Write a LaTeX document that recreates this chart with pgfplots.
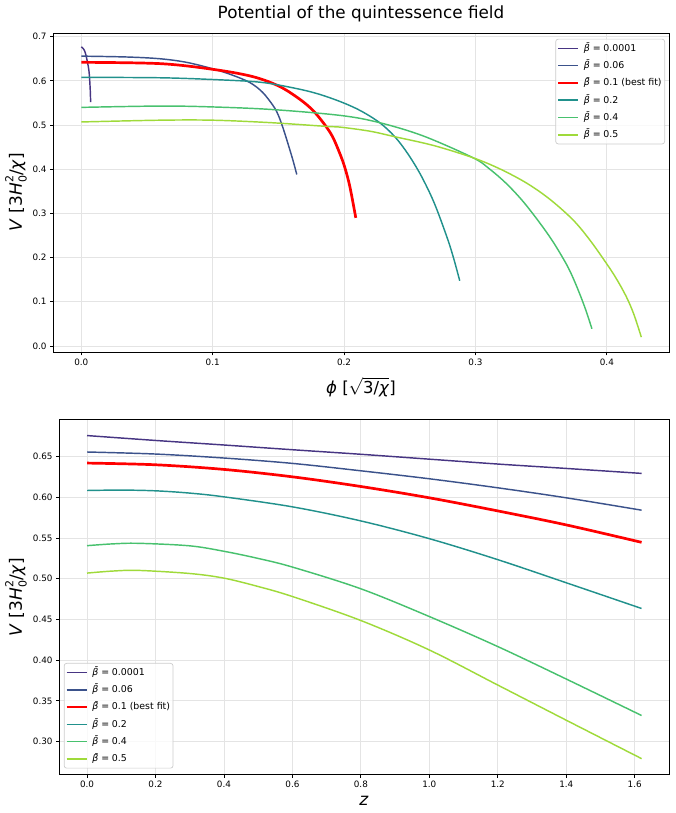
\documentclass[border=0pt]{standalone}
\usepackage{pgfplots}
\pgfplotsset{compat=1.18}
\usepackage{fontspec}
\setmainfont{DejaVu Sans}
\definecolor{cA}{HTML}{473583}
\definecolor{cB}{HTML}{3B528B}
\definecolor{cC}{HTML}{21918C}
\definecolor{cD}{HTML}{48C16E}
\definecolor{cE}{HTML}{9FDA3A}
\definecolor{gridc}{HTML}{E4E4E4}
\definecolor{legc}{HTML}{CCCCCC}
\newcommand{\bb}{\textit{β̄}\hspace{0.28em}=\hspace{0.28em}}
\begin{document}
\begin{tikzpicture}
\path[use as bounding box] (0pt,0pt) rectangle (676pt,813pt);
\pgfplotsset{myax/.style={
  scale only axis,
  axis line style={line width=0.9pt},
  tick align=outside, xtick pos=lower, ytick pos=left,
  major tick length=3.2pt,
  every tick/.style={black,line width=0.8pt},
  grid=major, major grid style={line width=0.8pt, color=gridc},
  ticklabel style={font=\fontsize{8.8}{10}\selectfont},
  /pgf/number format/assume math mode=true,
  legend cell align=left,
  legend image code/.code={\draw[##1] (0pt,0pt) -- (20pt,0pt); \path (22.5pt,0pt);},
  legend style={font=\fontsize{9.4}{11}\selectfont, draw=legc, line width=0.7pt,
    rounded corners=2.5pt, fill=white, fill opacity=0.8, text opacity=1,
    inner xsep=1pt, inner ysep=0.5pt, row sep=0pt,
    nodes={inner ysep=2.2pt, inner xsep=2pt, text height=9.3pt, text depth=3.6pt}},
  every axis plot/.append style={line join=round, smooth, tension=0.55},
}}
% ---------- top panel ----------
\begin{axis}[myax,
  at={(53.3pt,460.7pt)}, anchor=south west,
  width=616pt, height=319pt,
  xmin=-0.0213, xmax=0.4475, ymin=-0.0143, ymax=0.7077,
  xtick={0,0.1,0.2,0.3,0.4}, ytick={0,0.1,0.2,0.3,0.4,0.5,0.6,0.7},
  xticklabel style={/pgf/number format/.cd,fixed,fixed zerofill,precision=1},
  yticklabel style={/pgf/number format/.cd,fixed,fixed zerofill,precision=1},
  legend style={at={(1,1)}, anchor=north east, xshift=-4.3pt, yshift=-5.5pt},
]
\addplot[cA, line width=1.45pt] coordinates {(0,0.677) (0.0015,0.673) (0.003,0.664) (0.0048,0.641) (0.006,0.618) (0.0068,0.580) (0.0071,0.552)};
\addlegendentry{\bb 0.0001}
\addplot[cB, line width=1.45pt] coordinates {(0,0.656) (0.035,0.654) (0.060,0.650) (0.080,0.642) (0.1004,0.627) (0.115,0.613) (0.1284,0.596) (0.138,0.574) (0.1462,0.543) (0.150,0.522) (0.1539,0.490) (0.1583,0.448) (0.1614,0.417) (0.164,0.388)};
\addlegendentry{\bb 0.06}
\addplot[red, line width=2.7pt] coordinates {(0,0.642) (0.06,0.639) (0.1004,0.626) (0.130,0.610) (0.1505,0.588) (0.166,0.559) (0.176,0.534) (0.1842,0.505) (0.191,0.475) (0.1967,0.436) (0.2005,0.4045) (0.2044,0.3605) (0.2089,0.290)};
\addlegendentry{\bb 0.1 (best fit)}
\addplot[cC, line width=1.45pt] coordinates {(0,0.608) (0.06,0.607) (0.1005,0.603) (0.136,0.597) (0.1615,0.584) (0.18,0.5707) (0.198,0.552) (0.2126,0.5323) (0.2271,0.5053) (0.2386,0.4736) (0.2486,0.4346) (0.2586,0.3856) (0.2686,0.3236) (0.2786,0.2436) (0.2836,0.196) (0.288,0.1476)};
\addlegendentry{\bb 0.2}
\addplot[cD, line width=1.45pt] coordinates {(0,0.540) (0.06,0.543) (0.10,0.541) (0.146,0.535) (0.198,0.5215) (0.2271,0.5053) (0.26,0.4756) (0.2981,0.426) (0.3108,0.4003) (0.3235,0.3676) (0.3362,0.3271) (0.3488,0.279) (0.359,0.2359) (0.3691,0.1856) (0.3742,0.1544) (0.3793,0.118) (0.384,0.0808) (0.3886,0.039)};
\addlegendentry{\bb 0.4}
\addplot[cE, line width=1.45pt] coordinates {(0,0.507) (0.06,0.511) (0.10,0.511) (0.143,0.5056) (0.1865,0.497) (0.198,0.495) (0.2198,0.486) (0.2386,0.4736) (0.2684,0.4535) (0.2981,0.426) (0.3184,0.401) (0.3387,0.369) (0.3564,0.3325) (0.3741,0.2857) (0.3868,0.2407) (0.3995,0.1875) (0.4071,0.1528) (0.4147,0.112) (0.4205,0.0718) (0.4262,0.020)};
\addlegendentry{\bb 0.5}
\end{axis}
% ---------- bottom panel ----------
\begin{axis}[myax,
  at={(59.3pt,38.5pt)}, anchor=south west,
  width=610pt, height=355.2pt,
  xmin=-0.081, xmax=1.701, ymin=0.2595, ymax=0.696,
  xtick={0,0.2,0.4,0.6,0.8,1.0,1.2,1.4,1.6},
  ytick={0.30,0.35,0.40,0.45,0.50,0.55,0.60,0.65},
  xticklabel style={/pgf/number format/.cd,fixed,fixed zerofill,precision=1},
  yticklabel style={/pgf/number format/.cd,fixed,fixed zerofill,precision=2},
  legend style={at={(0,0)}, anchor=south west, xshift=4.5pt, yshift=6pt},
]
\addplot[cA, line width=1.45pt] coordinates {(0,0.676) (0.2,0.670) (0.4,0.6644) (0.6,0.6586) (0.8,0.653) (1.0,0.647) (1.2,0.641) (1.4,0.6356) (1.62,0.6295)};
\addlegendentry{\bb 0.0001}
\addplot[cB, line width=1.45pt] coordinates {(0,0.6558) (0.2,0.6533) (0.4,0.6484) (0.6,0.6418) (0.8,0.6327) (1.0,0.6229) (1.2,0.6118) (1.4,0.5995) (1.62,0.5843)};
\addlegendentry{\bb 0.06}
\addplot[red, line width=2.7pt] coordinates {(0,0.6422) (0.2,0.6401) (0.4,0.6344) (0.6,0.6253) (0.8,0.6134) (1.0,0.5995) (1.2,0.5834) (1.4,0.5662) (1.62,0.5448)};
\addlegendentry{\bb 0.1 (best fit)}
\addplot[cC, line width=1.45pt] coordinates {(0,0.6085) (0.1,0.609) (0.2,0.6081) (0.3,0.6053) (0.4,0.6007) (0.6,0.5884) (0.8,0.5711) (1.0,0.5493) (1.2,0.5235) (1.4,0.4951) (1.62,0.4635)};
\addlegendentry{\bb 0.2}
\addplot[cD, line width=1.45pt] coordinates {(0,0.5407) (0.075,0.5429) (0.15,0.5436) (0.3,0.5405) (0.4,0.5338) (0.5,0.5250) (0.6,0.5144) (0.8,0.4877) (1.0,0.4536) (1.2,0.4167) (1.4,0.3768) (1.62,0.332)};
\addlegendentry{\bb 0.4}
\addplot[cE, line width=1.45pt] coordinates {(0,0.507) (0.075,0.5095) (0.15,0.5103) (0.3,0.5065) (0.4,0.5008) (0.5,0.4905) (0.6,0.4782) (0.8,0.4487) (1.0,0.4125) (1.2,0.3694) (1.4,0.3262) (1.62,0.279)};
\addlegendentry{\bb 0.5}
\end{axis}
% ---------- titles and labels ----------
\node[font=\fontsize{16.8}{19}\selectfont] at (361pt,799pt) {Potential of the quintessence field};
\newcommand{\ylab}{\textit{V} [3\textit{H}\rlap{\raisebox{-0.28em}{\fontsize{11}{11}\selectfont 0}}\raisebox{0.5em}{\fontsize{11}{11}\selectfont 2}/\textit{χ}]}
\node[rotate=90, font=\fontsize{17}{19}\selectfont] at (16pt,621pt) {\ylab};
\node[rotate=90, font=\fontsize{17}{19}\selectfont] at (16pt,216pt) {\ylab};
\node[inner sep=0pt, font=\fontsize{16.5}{18}\selectfont] at (361pt,426pt) {\textit{ϕ} [$\sqrt{\vphantom{3}\smash{\mbox{3/\textit{χ}}}}$]};
\node[font=\fontsize{17}{19}\selectfont] at (364pt,12pt) {\textit{z}};
\end{tikzpicture}
\end{document}
